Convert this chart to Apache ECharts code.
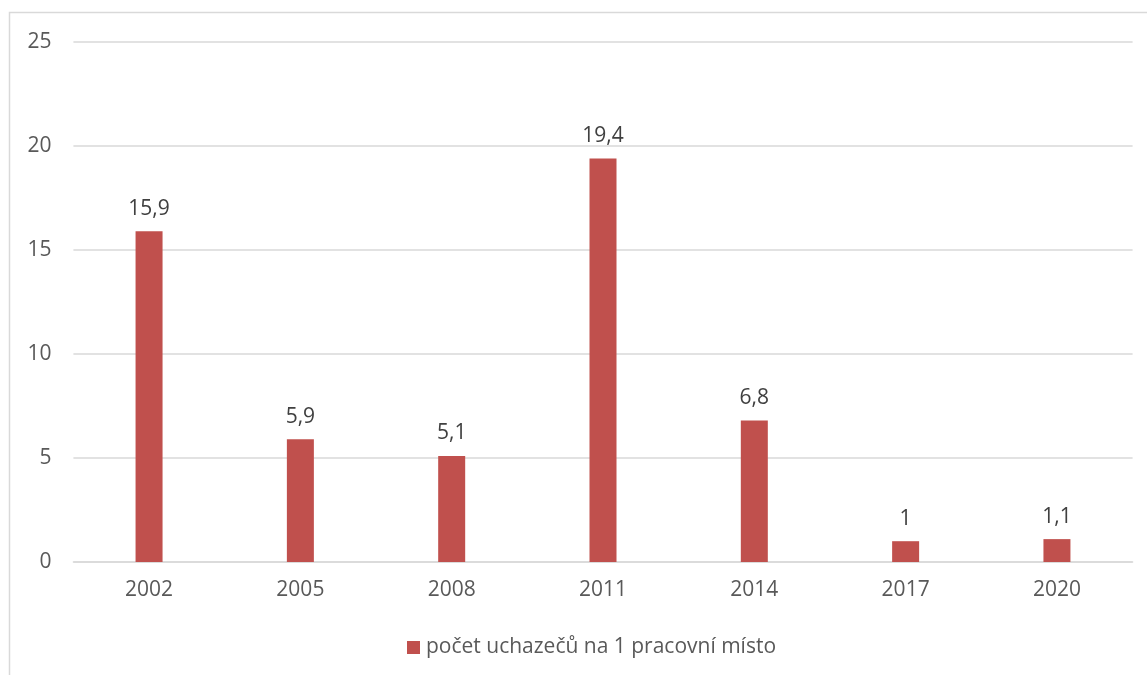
<!DOCTYPE html>
<html>
<head>
<meta charset="utf-8">
<script src="https://cdn.jsdelivr.net/npm/echarts@6/dist/echarts.min.js"></script>
<style>
html,body{margin:0;padding:0;background:#fff;}
#c{width:1147px;height:675px;}
</style>
</head>
<body>
<div id="c"></div>
<script>
const categories = ['2002','2005','2008','2011','2014','2017','2020'];
const values = [15.9, 5.9, 5.1, 19.4, 6.8, 1, 1.1];
const seriesName = 'počet uchazečů na 1 pracovní místo';
const yTicks = [0, 5, 10, 15, 20, 25];

const chart = echarts.init(document.getElementById('c'));
const txt = '#595959';
const font = 'Open Sans';
chart.setOption({
  animation: false,
  backgroundColor: '#fff',
  graphic: [{
    type: 'rect',
    shape: {x: 9.5, y: 12.5, width: 1200, height: 700},
    style: {fill: 'none', stroke: '#d9d9d9', lineWidth: 1.5},
    silent: true
  }],
  grid: {left: 73.4, right: 14.4, top: 42, bottom: 113, containLabel: false},
  legend: {
    data: [seriesName],
    top: 632,
    left: 402,
    icon: 'rect',
    itemWidth: 13,
    itemHeight: 13,
    itemGap: 10,
    textStyle: {color: txt, fontSize: 21, fontFamily: font, padding: [0,0,0,1]}
  },
  xAxis: {
    type: 'category',
    data: categories,
    axisLine: {lineStyle: {color: '#d9d9d9', width: 1.5}},
    axisTick: {show: false},
    axisLabel: {color: txt, fontSize: 21, fontFamily: font, margin: 18}
  },
  yAxis: {
    type: 'value',
    min: yTicks[0],
    max: yTicks[yTicks.length - 1],
    interval: 5,
    axisLine: {show: false},
    axisTick: {show: false},
    splitLine: {lineStyle: {color: '#d9d9d9', width: 1.5}},
    axisLabel: {color: txt, fontSize: 21, fontFamily: font, margin: 22}
  },
  series: [{
    name: seriesName,
    type: 'bar',
    data: values,
    barWidth: 27,
    itemStyle: {color: '#C0504D'},
    label: {
      show: true,
      position: 'top',
      distance: 12,
      color: '#404040',
      fontSize: 21,
      fontFamily: font,
      formatter: p => String(p.value).replace('.', ',')
    }
  }]
});
</script>
</body>
</html>
